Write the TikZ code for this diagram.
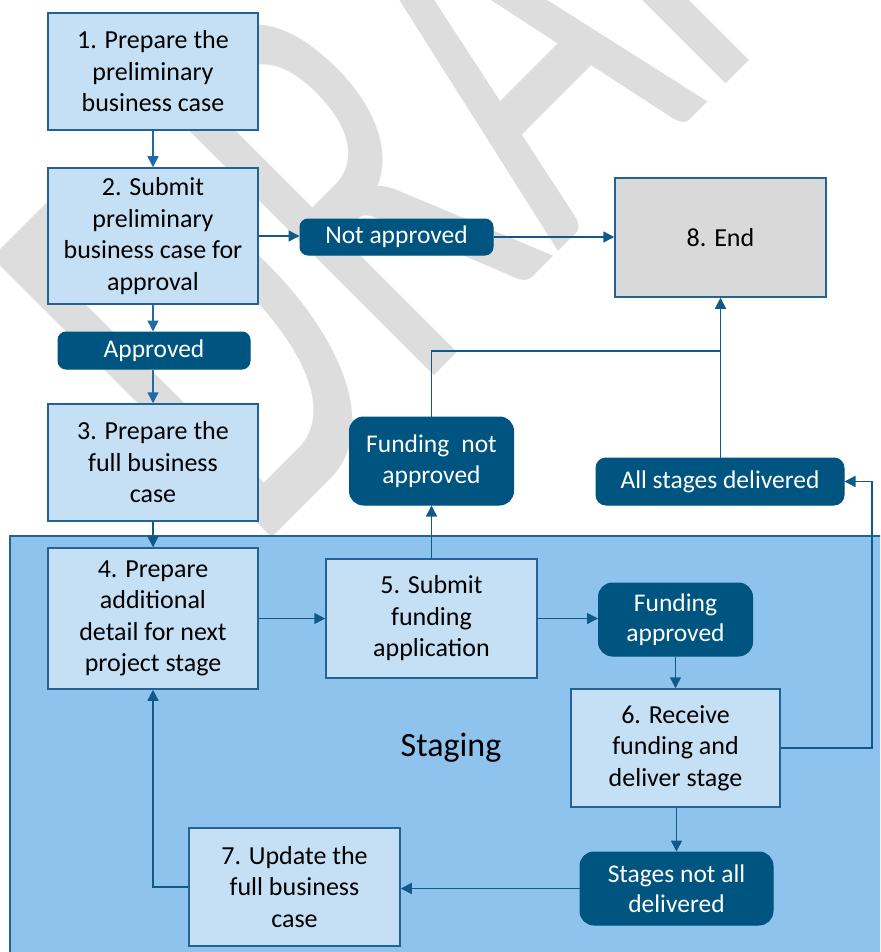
\documentclass[tikz,border=0pt]{standalone}
\usepackage{fontspec}
\setmainfont{Carlito}
\usetikzlibrary{arrows.meta}
\definecolor{boxfill}{RGB}{197,224,245}
\definecolor{boxline}{RGB}{36,98,150}
\definecolor{darkfill}{RGB}{0,84,128}
\definecolor{stagefill}{RGB}{142,195,238}
\definecolor{endfill}{RGB}{217,217,217}
\definecolor{connblue}{RGB}{16,90,138}
\definecolor{connlight}{RGB}{35,105,165}
\definecolor{wmgray}{RGB}{221,221,221}
\begin{document}
\begin{tikzpicture}[x=1pt,y=-1pt,
  procbox/.style={draw=boxline,line width=1.5pt,fill=boxfill,inner sep=0pt,align=center,
    text=black,font=\fontsize{26}{31.5}\selectfont},
  darkbox/.style={draw=darkfill,fill=darkfill,line width=1pt,rounded corners=#1,inner sep=0pt,
    align=center,text=white,font=\fontsize{25.5}{30.5}\selectfont},
  darkbox/.default=8pt,
  flow/.style={draw=connblue,line width=1.5pt,-{Triangle[length=11pt,width=11pt]}},
  flowlight/.style={flow,draw=connlight,-{Triangle[length=11pt,width=11pt,fill=connlight]}},
  plain/.style={draw=connblue,line width=1.5pt},
  wmark/.style={anchor=base west,rotate=45,xscale=0.6,inner sep=0pt,text=wmgray,
    font=\fontsize{617}{617}\selectfont}
]
\useasboundingbox (0,0) rectangle (880,952);
\clip (0,0) rectangle (880,952);
% watermark
\node[wmark] (wm) at (254,556) {DRAFT};
% staging area
\path[draw=boxline,fill=stagefill,line width=1.5pt] (10,536) rectangle (895,970);
\node[font=\fontsize{34}{40}\selectfont,text=black] (stg) at (451,748) {Staging};
% boxes
\node[procbox,minimum width=210pt,minimum height=117pt] (b1) at (153,71.5)
  {1. Prepare the\\preliminary\\business case};
\node[procbox,minimum width=210pt,minimum height=136pt] (b2) at (153,236)
  {2. Submit\\preliminary\\business case for\\approval};
\node[darkbox,minimum width=192pt,minimum height=37pt] (appr) at (154,350.5) {Approved};
\node[procbox,minimum width=210pt,minimum height=117pt] (b3) at (153,462.5)
  {3. Prepare the\\full business\\case};
\node[darkbox,minimum width=193pt,minimum height=36pt] (nappr) at (396.5,237) {Not approved};
\node[procbox,fill=endfill,minimum width=211pt,minimum height=119pt] (end) at (720.5,237.5) {8. End};
\node[procbox,minimum width=210pt,minimum height=141pt] (b4) at (153,618.5)
  {4. Prepare\\additional\\detail for next\\project stage};
\node[procbox,minimum width=211pt,minimum height=119pt] (b5) at (431.5,618.5)
  {5. Submit\\funding\\application};
\node[darkbox=14pt,minimum width=164pt,minimum height=88pt] (fna) at (431.5,461) {Funding\hspace{0.25em} not\\approved};
\node[darkbox=10pt,minimum width=248pt,minimum height=47pt] (asd) at (720,481.5) {All stages delivered};
\node[darkbox=14pt,minimum width=154pt,minimum height=73pt] (fa) at (675.5,619.5) {Funding\\approved};
\node[procbox,minimum width=209pt,minimum height=118pt] (b6) at (675.5,748)
  {6. Receive\\funding and\\deliver stage};
\node[darkbox=14pt,minimum width=193pt,minimum height=73pt] (snad) at (676.5,888.5) {Stages not all\\delivered};
\node[procbox,minimum width=211pt,minimum height=118pt] (b7) at (294.5,887)
  {7. Update the\\full business\\case};
\coordinate (jn) at (720.5,351);
% connectors
\draw[flowlight] (b1.south) -- (b2.north);
\draw[flowlight] (b2.south) -- (b2.south |- appr.north);
\draw[flowlight] (b2.south |- appr.south) -- (b3.north);
\draw[flow] (b2.east) -- (b2.east -| nappr.west);
\draw[flow] (nappr.east) -- (nappr.east -| end.west);
\draw[flow] (b3.south) -- (b4.north);
\draw[flow] (b4.east) -- (b5.west);
\draw[flow] (b5.north) -- (fna.south);
\draw[plain] (fna.north) |- (jn);
\draw[flow] (asd.north -| end.south) -- (end.south);
\draw[flow] (b5.east) -- (b5.east -| fa.west);
\draw[flow] (fa.south) -- (fa.south |- b6.north);
\draw[flow] (b6.east) -- ++(91,0) |- (asd.east);
\draw[flow] (b6.south -| snad.north) -- (snad.north);
\draw[flow] (snad.west) -- (snad.west -| b7.east);
\draw[flow] (b7.west) -| (b4.south);
\end{tikzpicture}
\end{document}
